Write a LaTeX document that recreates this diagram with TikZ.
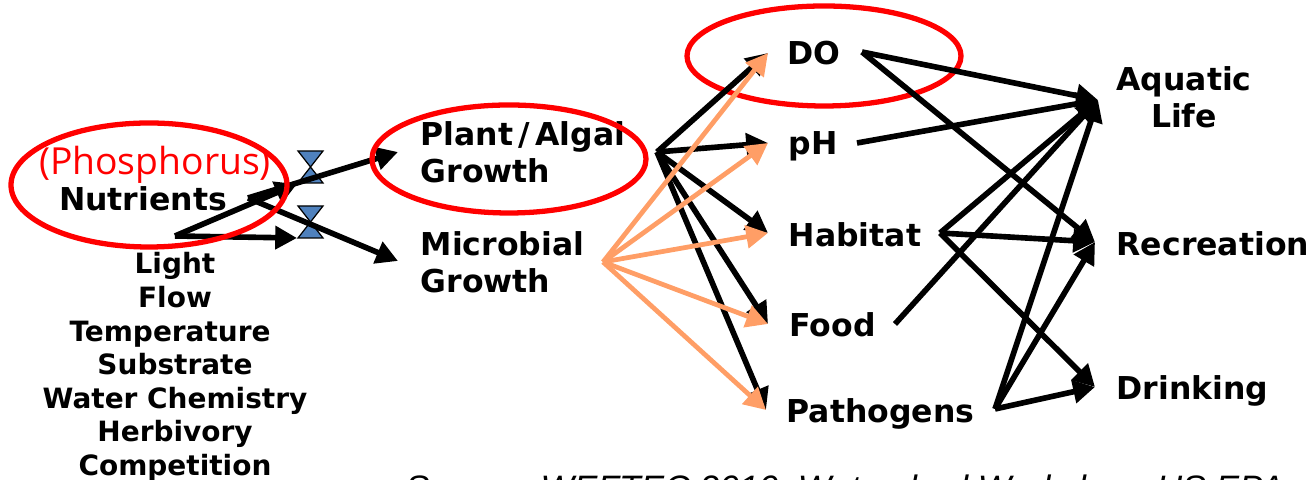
\documentclass[tikz,border=0pt]{standalone}
\usepackage{fontspec}
\setmainfont{DejaVu Sans}
\newfontfamily\notefont{Open Sans}
\newfontfamily\sourcefont{Liberation Sans}
\usetikzlibrary{arrows.meta,positioning,calc}

\begin{document}
\begin{tikzpicture}[
  x=0.01cm, y=-0.01cm,
  bigtext/.style={align=left, inner sep=0pt, font=\fontsize{8.96}{10.5}\selectfont\bfseries},
  factors/.style={align=center, inner sep=0pt, font=\fontsize{7.95}{9.56}\selectfont\bfseries},
  link/.style={-{Triangle[length=6.2pt,width=6.4pt]}, line width=1.6pt, draw=black},
  lightlink/.style={-{Triangle[length=6.2pt,width=6.4pt]}, line width=1.35pt, draw=effect},
  ring/.style={draw=red, line width=1.5pt},
  valve/.style={draw=black, line width=0.35pt, fill=valveblue}
]
\definecolor{effect}{HTML}{FF9E66}
\definecolor{valveblue}{HTML}{4F81BD}
\useasboundingbox (0,0) rectangle (1312,480);

% labels
\node[anchor=center, inner sep=0pt, text=red, font=\fontsize{10.6}{12}\selectfont\notefont] (phosphorus) at (155,165) {(Phosphorus)};
\node[bigtext] (nutrients) at (143,199) {Nutrients};
\node[factors] (factorlist) at (175,367) {Light\\Flow\\Temperature\kern2.8pt\relax\\Substrate\\Water Chemistry\\Herbivory\\Competition};
\node[bigtext, anchor=west] (plant) at (420,152) {Plant\kern1.5pt/\kern1.5pt Algal\\Growth};
\node[bigtext, anchor=west] (microbial) at (420,262) {Microbial\\Growth};

\node[bigtext, anchor=center] (do) at (814,53) {DO};
\node[bigtext, anchor=west] (ph) at (788,146) {pH};
\node[bigtext, anchor=west] (habitat) at (788,235) {Habitat};
\node[bigtext, anchor=west] (food) at (789,325) {Food};
\node[bigtext, anchor=west] (pathogens) at (786,414) {Pathogens};

\node[bigtext, align=center] (aquatic) at (1184,97) {Aquatic\\Life};
\node[bigtext, anchor=west] (recreation) at (1116,244) {Recreation};
\node[bigtext, anchor=west] (drinking) at (1116,391) {Drinking};

\node[anchor=base west, inner sep=0pt, font=\fontsize{10.05}{11}\selectfont\sourcefont\itshape] (source) at (405,501) {Source: WEFTEC 2010, Watershed Workshop, US EPA};

% hubs and ends
\coordinate (factorout) at (175,236);
\coordinate (nutrout) at (248,198);
\coordinate (valvetop) at (297,184);
\coordinate (valvelow) at (297,238);
\coordinate (plantin) at (398,152);
\coordinate (microin) at (398,261);
\coordinate (plantout) at (657,152);
\coordinate (microout) at (603,262);
\coordinate (doin) at (768,53);
\coordinate (phin) at (768,143);
\coordinate (habin) at (768,233);
\coordinate (foodin) at (768,324);
\coordinate (pathin) at (766,410);
\coordinate (doout) at (862,52);
\coordinate (phout) at (857,143);
\coordinate (habout) at (940,233);
\coordinate (foodout) at (895,324);
\coordinate (pathout) at (995,409);
\coordinate (aqin) at (1098,100);
\coordinate (recin) at (1095,242);
\coordinate (drin) at (1095,387);

\draw[ring] (824,56) ellipse (137 and 50);

% valves
\foreach \y in {151,206} {
  \draw[valve] (298,\y) -- (323,\y) -- (298,\y+32) -- (323,\y+32) -- cycle;
}

\draw[link] (factorout) -- (valvetop);
\draw[link] (factorout) -- (valvelow);
\draw[link] (nutrout) -- (plantin);
\draw[link] (nutrout) -- (microin);

\foreach \t in {doin,phin,habin,foodin,pathin} {
  \draw[link] (plantout) -- (\t);
}
\foreach \t in {doin,phin,habin,foodin,pathin} {
  \draw[lightlink] (microout) -- (\t);
}

\foreach \s/\t in {doout/aqin, doout/recin, phout/aqin, habout/aqin, habout/recin, habout/drin, foodout/aqin, pathout/aqin, pathout/recin, pathout/drin} {
  \draw[link] (\s) -- (\t);
}

\draw[ring] (149,185) ellipse (138 and 62);
\draw[ring] (509,159) ellipse (137 and 54);

\end{tikzpicture}
\end{document}
